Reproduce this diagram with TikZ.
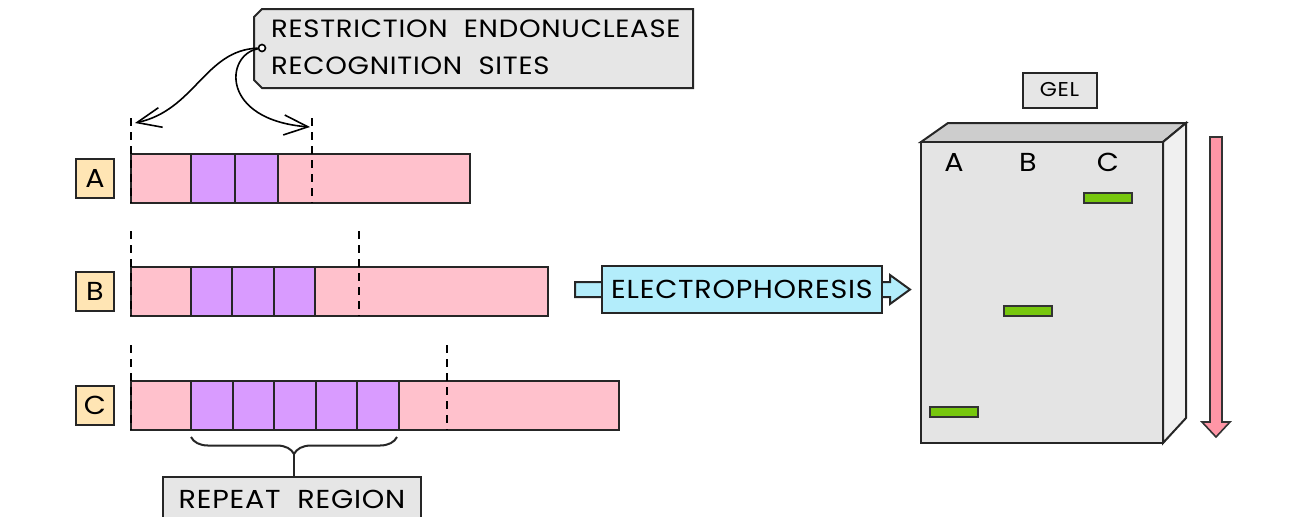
\documentclass[tikz,border=0pt]{standalone}
\usepackage{fontspec}
\setmainfont{Poppins}[FakeStretch=1.1, LetterSpace=3]
\usepackage{tikz}
\usetikzlibrary{arrows.meta, positioning, calc, decorations.pathreplacing}
\definecolor{dnapink}{HTML}{FFC1CC}
\definecolor{repeatpurple}{HTML}{D99BFF}
\definecolor{tagorange}{HTML}{FFE5B4}
\definecolor{boxgrey}{HTML}{E6E6E6}
\definecolor{arrowblue}{HTML}{B3EDFB}
\definecolor{gelfront}{HTML}{E4E4E4}
\definecolor{geltop}{HTML}{CDCDCD}
\definecolor{gelside}{HTML}{F0F0F0}
\definecolor{bandgreen}{HTML}{77C70E}
\definecolor{flowpink}{HTML}{FF96A6}

\begin{document}
\begin{tikzpicture}[x=0.5pt, y=-0.5pt,
  every node/.style={font=\fontsize{13}{18.75}\selectfont},
  line/.style={draw=black!85, line width=1pt},
  tag/.style={line, fill=tagorange, minimum width=19pt, minimum height=19.5pt, inner sep=0pt},
  cutline/.style={black, line width=1pt, dash pattern=on 4pt off 3pt},
  labelbox/.style={line, fill=boxgrey, inner sep=0pt},
  band/.style={draw=black!80, line width=0.8pt, fill=bandgreen, minimum width=24pt, minimum height=5pt, inner sep=0pt},
  curvy/.style={black, line width=0.8pt, -{Straight Barb[length=12pt, width=10pt]}}
]
\clip (0,0) rectangle (1313,516);
% DNA fragments A, B, C
\foreach \name/\y/\len/\n/\w/\cut in {A/154/470/2/43.5/312, B/267/548/3/41.3/359, C/381/619/5/41.5/447} {
  \draw[line, fill=dnapink] (131,\y) rectangle (\len,\y+49);
  \foreach \i in {1,...,\n}
    \draw[line, fill=repeatpurple] (191+\w*\i-\w,\y) rectangle (191+\w*\i,\y+49);
  \node[tag] (tag\name) at (95,\y+24.5) {\name};
  \coordinate (cutL\name) at (131,\y-36);
  \coordinate (cutR\name) at (\cut,\y-36);
  \draw[cutline] (cutL\name) -- ++(0,85);
  \draw[cutline] (cutR\name) -- ++(0,85);
}
% Recognition sites label
\draw[line, fill=boxgrey] (262,9) -- (693,9) -- (693,88) -- (262,88) -- (254,80) -- (254,17) -- cycle;
\node[anchor=west, align=left, font=\fontsize{12.5}{18.75}\selectfont] (sites) at (264,47.5) {RESTRICTION\ \ ENDONUCLEASE\\RECOGNITION\ \ SITES};
\node[circle, draw, line width=0.8pt, fill=white, inner sep=0pt, minimum size=3.5pt] (pin) at (262,48) {};
\draw[curvy] (pin) .. controls (205,50) and (195,110) .. ([shift={(4,5)}]cutLA);
\draw[curvy] (pin) .. controls (225,55) and (220,120) .. ([shift={(-2,9)}]cutRA);
% Repeat region
\draw[line, decorate, decoration={brace, amplitude=8.5pt}] (397,437) -- (191,437);
\coordinate (bracetip) at (294,454);
\node[labelbox, minimum width=129pt, minimum height=22pt, anchor=north] (repeat) at (292,476) {REPEAT\ \ REGION};
\draw[line] (bracetip) -- (bracetip |- repeat.north);
% Electrophoresis arrow
\draw[line, fill=arrowblue] (575,282) -- (890,282) -- (890,275) -- (910,289.5) -- (890,304) -- (890,297) -- (575,297) -- cycle;
\node[line, fill=arrowblue, minimum width=140pt, minimum height=23.5pt, inner sep=0pt] (electro) at (742,289.5) {ELECTROPHORESIS};
% Gel
\node[labelbox, minimum width=37pt, minimum height=17.5pt, font=\fontsize{10}{12}\selectfont] (gel) at (1059.5,90) {GEL};
\draw[line, fill=geltop] (921,142) -- (948,123) -- (1186,123) -- (1163,142) -- cycle;
\draw[line, fill=gelside] (1163,142) -- (1186,123) -- (1186,418) -- (1163,443) -- cycle;
\draw[line, fill=gelfront] (921,142) rectangle (1163,443);
\foreach \lane/\x/\y in {A/954/412, B/1028/311, C/1108/198} {
  \node (lane\lane) at (\x,162) {\lane};
  \node[band] (band\lane) at (\x,\y) {};
}
% Direction of travel
\draw[line width=0.8pt, draw=black!80, fill=flowpink] (1210,137) -- (1222,137) -- (1222,422) -- (1230,422) -- (1216,437) -- (1202,422) -- (1210,422) -- cycle;
\end{tikzpicture}
\end{document}
